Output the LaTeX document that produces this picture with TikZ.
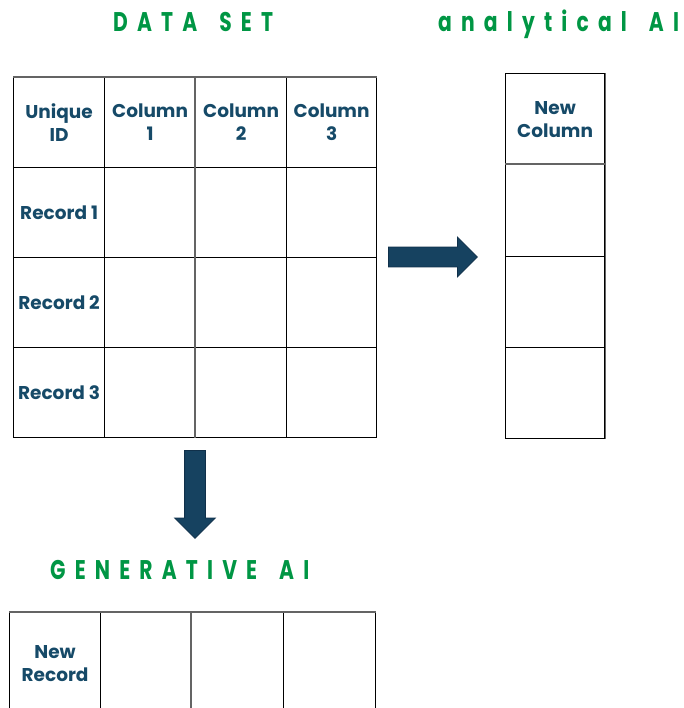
\documentclass[tikz,border=0pt]{standalone}
\usepackage{fontspec}
\setmainfont{Poppins}
\newfontfamily\headfont[LetterSpace=34, FakeStretch=0.75]{Poppins}
\newcommand{\wordgap}{\hspace{22pt}}
\usetikzlibrary{shapes.arrows}

\definecolor{titlegreen}{RGB}{0,150,68}
\definecolor{cellblue}{RGB}{22,74,104}
\definecolor{arrowfill}{RGB}{22,66,96}
\definecolor{arrowedge}{RGB}{16,48,74}
\definecolor{gridgray}{RGB}{100,100,100}

\tikzset{
  cellbox/.style={draw=black, line width=1.2pt, rectangle, inner sep=0pt,
    anchor=north west, align=center, text=cellblue,
    font=\bfseries\fontsize{18.5}{23}\selectfont},
  titletext/.style={text=titlegreen, inner sep=0pt, anchor=base west,
    font=\headfont\bfseries\fontsize{27}{30}\selectfont},
  blockarrow/.style={single arrow, fill=arrowfill, draw=arrowedge, line width=0.8pt,
    inner sep=0pt, single arrow head extend=10pt,
    single arrow head indent=0pt, anchor=tail}
}

\begin{document}
\begin{tikzpicture}[x=1pt, y=-1pt]
  \useasboundingbox (0,0) rectangle (683,708);
  \clip (0,0) rectangle (683,708);

  % section headings
  \node[titletext] (tdata) at (113,32) {DATA\wordgap SET};
  \node[titletext] (tana) at (438,32) {analytical\wordgap AI};
  \node[titletext] (tgen) at (50,579) {GENERATIVE\wordgap AI};

  % data set table: header row
  \node[cellbox, minimum width=91pt, minimum height=90pt] (h0) at (13,77) {Unique\\ID};
  \node[cellbox, minimum width=91pt, minimum height=90pt] (h1) at (104,77) {Column\\1};
  \node[cellbox, minimum width=91pt, minimum height=90pt] (h2) at (195,77) {Column\\2};
  \node[cellbox, minimum width=90pt, minimum height=90pt] (h3) at (286,77) {Column\\3};

  % data set table: records
  \foreach \r/\y in {1/167, 2/257, 3/347} {
    \node[cellbox, minimum width=91pt, minimum height=90pt] (r\r-0) at (13,\y) {Record \r};
    \node[cellbox, minimum width=91pt, minimum height=90pt] (r\r-1) at (104,\y) {};
    \node[cellbox, minimum width=91pt, minimum height=90pt] (r\r-2) at (195,\y) {};
    \node[cellbox, minimum width=90pt, minimum height=90pt] (r\r-3) at (286,\y) {};
  }

  % new column produced by analytical AI
  \node[cellbox, minimum width=99pt, minimum height=91pt] (n0) at (505,73) {New\\Column};
  \node[cellbox, minimum width=99pt, minimum height=92pt] (n1) at (505,164) {};
  \node[cellbox, minimum width=99pt, minimum height=91pt] (n2) at (505,256) {};
  \node[cellbox, minimum width=99pt, minimum height=91pt] (n3) at (505,347) {};

  % new record produced by generative AI
  \node[cellbox, minimum width=91pt, minimum height=101pt] (g0) at (9,612) {New\\Record};
  \node[cellbox, minimum width=91pt, minimum height=101pt] (g1) at (100,612) {};
  \node[cellbox, minimum width=92pt, minimum height=101pt] (g2) at (191,612) {};
  \node[cellbox, minimum width=92pt, minimum height=101pt] (g3) at (283,612) {};

  % lighter rules inside the grids
  \draw[gridgray, line width=1.2pt] (h2.north west) -- (r3-2.south west);
  \draw[gridgray, line width=1.2pt] (h0.north west) -- (h3.north east);
  \draw[gridgray, line width=1.2pt] (n0.north east) -- (n3.south east);
  \draw[gridgray, line width=1.2pt] (n1.north west) -- (n1.north east);
  \draw[gridgray, line width=1.2pt] (g2.north west) -- (g2.south west);
  \draw[gridgray, line width=1.2pt] (g0.north west) -- (g3.north east);

  % block arrows
  \node[blockarrow, inner ysep=9.5pt, minimum height=89pt] (arA) at (388,257) {};
  \node[blockarrow, inner xsep=10pt, minimum height=88pt, shape border rotate=270] (arG) at (195,450) {};
\end{tikzpicture}
\end{document}
